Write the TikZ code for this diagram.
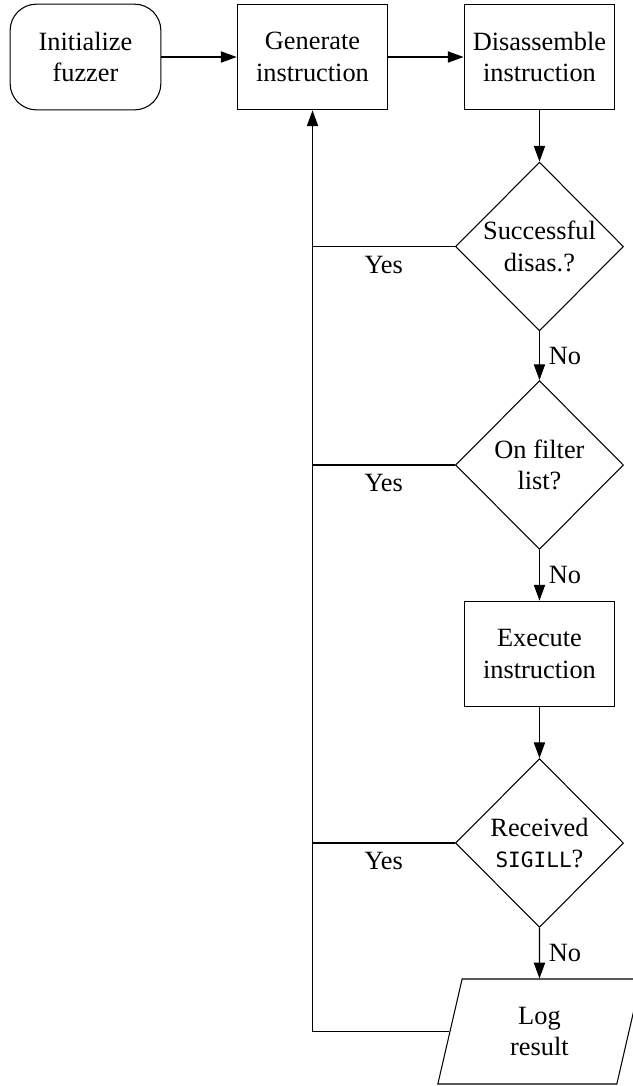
\documentclass[tikz,border=0pt]{standalone}
\usepackage{fontspec}
\setmainfont{Liberation Serif}
\setmonofont{DejaVu Sans Mono}[Scale=0.8]
\usetikzlibrary{arrows.meta,shapes.geometric}

\begin{document}
\begin{tikzpicture}[
  box/.style={draw, align=center, minimum width=2.01cm, minimum height=1.41cm, inner sep=2pt},
  start/.style={box, rounded corners=10pt},
  decision/.style={draw, diamond, aspect=1, align=center, inner sep=0pt,
                   minimum width=2.24cm, minimum height=2.25cm},
  io/.style={draw, trapezium, trapezium left angle=70, trapezium right angle=110,
             trapezium stretches body, align=center, minimum width=2.71cm, minimum height=1.4cm},
  ar/.style={-{Triangle[length=2.1mm,width=1.5mm]}}]
\useasboundingbox (0,0) rectangle (8.427,-14.48);
\node[start] (init) at (1.14,-0.76)    {Initialize\\fuzzer};
\node[box]   (gen)  at (4.167,-0.76)   {Generate\\instruction};
\node[box]   (dis)  at (7.193,-0.76)   {Disassemble\\instruction};
\node[decision] (succ) at (7.193,-3.287) {Successful\\disas.?};
\node[decision] (filt) at (7.193,-6.2)   {On filter\\list?};
\node[box]   (exec) at (7.193,-8.72)   {Execute\\instruction};
\node[decision] (sig)  at (7.193,-11.24) {Received\\\texttt{SIGILL}?};
\node[io]    (log)  at (7.193,-13.753) {Log\\result};
\draw[ar] (init) -- (gen);
\draw[ar] (gen) -- (dis);
\draw[ar] (dis) -- (succ);
\draw[ar] (succ) -- node[right] {No} (filt);
\draw[ar] (filt) -- node[right] {No} (exec);
\draw[ar] (exec) -- (sig);
\draw[ar] (sig) -- node[right] {No} (log);
\draw[ar] (log.west) -| (gen.south);
\draw (succ.west) -- node[below] {Yes} (succ.west -| gen.south);
\draw (filt.west) -- node[below] {Yes} (filt.west -| gen.south);
\draw (sig.west) -- node[below] {Yes} (sig.west -| gen.south);
\end{tikzpicture}
\end{document}
